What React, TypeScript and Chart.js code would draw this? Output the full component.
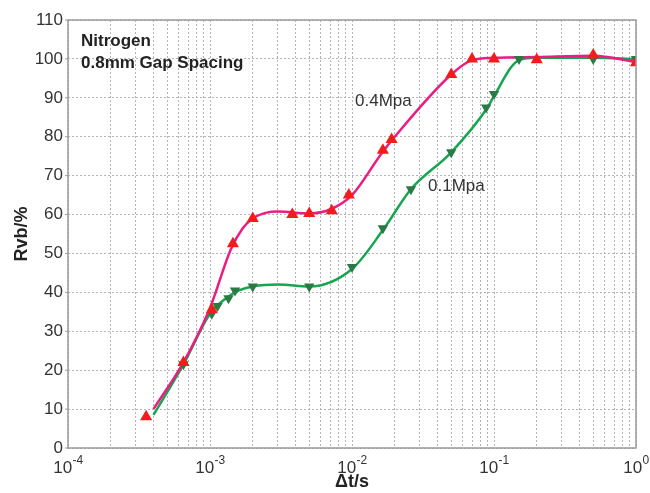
import React, { useEffect, useRef } from "react";
import { Chart, registerables } from "chart.js";

Chart.register(...registerables);

// ---- data ----
const redMarkerX = [3.55e-4, 6.5e-4, 1.03e-3, 1.45e-3, 2.0e-3, 3.8e-3, 5.0e-3, 7.2e-3, 9.5e-3, 1.65e-2, 1.9e-2, 5.0e-2, 7.0e-2, 1.0e-1, 2.0e-1, 5.0e-1, 1.0];
const redMarkerY = [8, 22, 35.5, 52.5, 59, 60, 60.3, 61, 65, 76.5, 79.3, 96, 100, 100, 99.8, 101, 99];

const greenMarkerX = [6.5e-4, 1.03e-3, 1.13e-3, 1.35e-3, 1.5e-3, 2.0e-3, 5.0e-3, 1.0e-2, 1.65e-2, 2.6e-2, 5.0e-2, 8.8e-2, 1.0e-1, 1.5e-1, 5.0e-1, 1.0];
const greenMarkerY = [21.5, 34.5, 36.5, 38.5, 40.5, 41.5, 41.5, 46.5, 56.5, 66.5, 76, 87.5, 91, 100, 100, 100];

// fitted curves as drawn in the reference
const magentaCurveX = [4e-4, 6.5e-4, 1e-3, 1.4e-3, 1.7e-3, 2e-3, 2.5e-3, 3e-3, 5e-3, 7e-3, 1e-2, 1.6e-2, 2e-2, 5e-2, 7e-2, 1e-1, 2e-1, 5e-1, 1];
const magentaCurveY = [10, 22, 36, 51, 56.5, 59, 60.5, 60.8, 60.3, 61.3, 65, 75.5, 80, 96, 99.7, 100.3, 100.5, 100.8, 99.2];

const greenCurveX = [4e-4, 6.5e-4, 1e-3, 1.3e-3, 1.6e-3, 2e-3, 3e-3, 5e-3, 1e-2, 1.65e-2, 2.6e-2, 5e-2, 9e-2, 1e-1, 1.5e-1, 2e-1, 5e-1, 1];
const greenCurveY = [8.5, 21.5, 34.5, 38.5, 40.5, 41.5, 42, 41.5, 46, 56, 66.5, 76, 87.5, 90.5, 99.7, 100.3, 100.3, 100];

const xTickExponents = [-4, -3, -2, -1, 0];
const yTicks = [0, 10, 20, 30, 40, 50, 60, 70, 80, 90, 100, 110];

const seriesLabels = ["0.4Mpa", "0.1Mpa"];
const titleLines = ["Nitrogen", "0.8mm Gap Spacing"];

const FONT = "'Liberation Sans', Arial, sans-serif";

const pts = (xs: number[], ys: number[]) => xs.map((x, i) => ({ x, y: ys[i] }));

export default function App() {
  const ref = useRef<HTMLCanvasElement | null>(null);

  useEffect(() => {
    if (!ref.current) return;

    const overlay = {
      id: "overlay",
      afterDraw(chart: any) {
        const { ctx, chartArea, scales } = chart;
        const xs = scales.x;
        const ys = scales.y;
        ctx.save();
        // frame
        ctx.strokeStyle = "#9a9a9a";
        ctx.lineWidth = 1.5;
        ctx.strokeRect(chartArea.left, chartArea.top, chartArea.right - chartArea.left, chartArea.bottom - chartArea.top);
        // y outward little ticks
        ctx.lineWidth = 1;
        yTicks.forEach((v) => {
          const py = ys.getPixelForValue(v);
          ctx.beginPath();
          ctx.moveTo(chartArea.left - 3, py);
          ctx.lineTo(chartArea.left, py);
          ctx.stroke();
        });
        // x tick labels with superscripts
        ctx.fillStyle = "#333";
        ctx.textBaseline = "alphabetic";
        ctx.textAlign = "left";
        xTickExponents.forEach((e) => {
          const px = xs.getPixelForValue(Math.pow(10, e));
          ctx.font = `17px ${FONT}`;
          const w1 = ctx.measureText("10").width;
          ctx.font = `12px ${FONT}`;
          const expText = String(e);
          const w2 = ctx.measureText(expText).width;
          const start = px - (w1 + w2) / 2;
          ctx.font = `17px ${FONT}`;
          ctx.fillText("10", start, 473);
          ctx.font = `12px ${FONT}`;
          ctx.fillText(expText, start + w1 + 0.5, 464);
        });
        // annotations
        ctx.fillStyle = "#222";
        ctx.font = `bold 17px ${FONT}`;
        ctx.fillText(titleLines[0], 81, 46);
        ctx.fillText(titleLines[1], 81, 68);
        ctx.font = `17px ${FONT}`;
        ctx.fillStyle = "#333";
        ctx.fillText(seriesLabels[0], 355, 106);
        ctx.fillText(seriesLabels[1], 428, 191);
        ctx.restore();
      },
    };

    const chart = new Chart(ref.current, {
      type: "line",
      data: {
        datasets: [
          {
            label: seriesLabels[0] + " markers",
            data: pts(redMarkerX, redMarkerY),
            showLine: false,
            pointStyle: "triangle",
            pointRadius: 7,
            pointBackgroundColor: "#f21c1c",
            pointBorderColor: "#f21c1c",
            pointBorderWidth: 0,
            order: 0,
          },
          {
            label: seriesLabels[1] + " markers",
            data: pts(greenMarkerX, greenMarkerY),
            showLine: false,
            pointStyle: "triangle",
            pointRotation: 180,
            pointRadius: 6,
            pointBackgroundColor: "#2a7a45",
            pointBorderColor: "#2a7a45",
            pointBorderWidth: 0,
            order: 1,
          },
          {
            label: seriesLabels[0],
            data: pts(magentaCurveX, magentaCurveY),
            borderColor: "#ea1e82",
            borderWidth: 2.5,
            pointRadius: 0,
            cubicInterpolationMode: "monotone",
            fill: false,
            order: 2,
          },
          {
            label: seriesLabels[1],
            data: pts(greenCurveX, greenCurveY),
            borderColor: "#18a551",
            borderWidth: 2.5,
            pointRadius: 0,
            cubicInterpolationMode: "monotone",
            fill: false,
            order: 3,
          },
        ],
      },
      options: {
        responsive: false,
        animation: false,
        layout: { padding: { top: 20, right: 14, left: 0, bottom: 0 } },
        plugins: { legend: { display: false }, tooltip: { enabled: false } },
        scales: {
          x: {
            type: "logarithmic",
            min: 1e-4,
            max: 1,
            afterBuildTicks(scale: any) {
              const t: any[] = [];
              for (let e = xTickExponents[0]; e < xTickExponents[xTickExponents.length - 1]; e++) {
                for (let s = 1; s <= 9; s++) t.push({ value: s * Math.pow(10, e) });
              }
              t.push({ value: 1 });
              scale.ticks = t;
            },
            afterFit(scale: any) {
              scale.height = 45;
            },
            ticks: { display: false },
            grid: { color: "#b4b4b4", lineWidth: 1, drawTicks: false },
            border: { display: false, dash: [2, 2] },
            title: {
              display: true,
              text: "Δt/s",
              font: { family: FONT, size: 18, weight: "bold" },
              color: "#222",
              padding: { top: 0, bottom: 0 },
            },
          },
          y: {
            min: 0,
            max: 110,
            afterBuildTicks(scale: any) {
              scale.ticks = yTicks.map((v) => ({ value: v }));
            },
            afterFit(scale: any) {
              scale.width = 68;
            },
            ticks: {
              font: { family: FONT, size: 17 },
              color: "#333",
              padding: 5,
            },
            grid: { color: "#b4b4b4", lineWidth: 1, drawTicks: false },
            border: { display: false, dash: [2, 2] },
            title: {
              display: true,
              text: "Rvb/%",
              font: { family: FONT, size: 18, weight: "bold" },
              color: "#222",
              padding: { top: 11, bottom: 0 },
            },
          },
        },
      },
      plugins: [overlay],
    } as any);

    return () => chart.destroy();
  }, []);

  return (
    <div style={{ position: "absolute", left: 0, top: 0, width: 650, height: 493, background: "#fff" }}>
      <canvas ref={ref} width={650} height={493} />
    </div>
  );
}
